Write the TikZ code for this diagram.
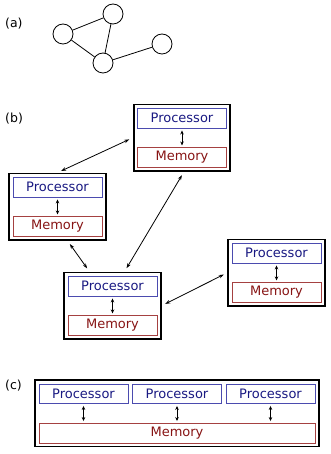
\documentclass[tikz,border=0pt]{standalone}
\usepackage{fontspec}
\setmainfont{DejaVu Sans}
\usepackage{xcolor}
\usepackage{tikz}
\usetikzlibrary{arrows.meta,positioning,fit,calc}
\definecolor{procblue}{RGB}{75,75,175}
\definecolor{proctext}{RGB}{25,25,130}
\definecolor{memred}{RGB}{165,65,65}
\definecolor{memtext}{RGB}{135,20,20}
\tikzset{
  unitbox/.style={
    draw,
    inner sep=0pt,
    minimum height=19.5pt,
    minimum width=89pt,
    font=\fontsize{13}{15}\selectfont
  },
  procbox/.style={unitbox, draw=procblue, text=proctext},
  membox/.style={unitbox, draw=memred, text=memtext},
  nodebox/.style={draw, line width=1.8pt, inner sep=3.5pt},
  vertex/.style={draw, circle, minimum size=20pt, inner sep=0pt, line width=0.8pt},
  partlabel/.style={anchor=west, inner sep=1pt, font=\fontsize{12.5}{14}\selectfont},
  link/.style={{Stealth[length=5pt,width=3.5pt]}-{Stealth[length=5pt,width=3.5pt]}, line width=0.8pt, shorten >=4pt, shorten <=4pt},
  buslink/.style={{Stealth[length=4pt,width=3.5pt]}-{Stealth[length=4pt,width=3.5pt]}, line width=0.8pt, shorten >=2pt, shorten <=2.5pt}
}

\begin{document}
\begin{tikzpicture}[x=1pt, y=-1pt, node distance=19.5pt]
\useasboundingbox (0,0) rectangle (330,454);

% (a) graph
\node[partlabel] (labela) at (4,24) {(a)};
\node[vertex] (va) at (63,34) {};
\node[vertex] (vb) at (113,14) {};
\node[vertex] (vc) at (103,63) {};
\node[vertex] (vd) at (162,44) {};
\draw[line width=0.8pt] (va) -- (vb);
\draw[line width=0.8pt] (va) -- (vc);
\draw[line width=0.8pt] (vb) -- (vc);
\draw[line width=0.8pt] (vc) -- (vd);

% (b) distributed
\node[partlabel] (labelb) at (4,119) {(b)};
\node[procbox] (tproc) at (182,118) {Processor};
\node[membox, below=of tproc] (tmem) {Memory};
\node[nodebox, fit=(tproc) (tmem)] (tbox) {};
\node[procbox] (lproc) at (57.5,187) {Processor};
\node[membox, below=of lproc] (lmem) {Memory};
\node[nodebox, fit=(lproc) (lmem)] (lbox) {};
\node[procbox] (mproc) at (112.5,286) {Processor};
\node[membox, below=of mproc] (mmem) {Memory};
\node[nodebox, fit=(mproc) (mmem)] (mbox) {};
\node[procbox] (rproc) at (276.5,253) {Processor};
\node[membox, below=of rproc] (rmem) {Memory};
\node[nodebox, fit=(rproc) (rmem)] (rbox) {};

\draw[buslink] (tproc) -- (tmem);
\draw[buslink] (lproc) -- (lmem);
\draw[buslink] (mproc) -- (mmem);
\draw[buslink] (rproc) -- (rmem);

\draw[link] (lbox.north) -- (tbox.west);
\draw[link] ([xshift=10pt]lbox.south) -- ([xshift=-23pt]mbox.north);
\draw[link] ([xshift=2pt]tbox.south) -- ([xshift=12pt]mbox.north);
\draw[link] (mbox.east) -- (rbox.west);

% (c) shared memory
\node[partlabel] (labelc) at (4,386) {(c)};
\node[procbox] (cproc1) at (83.5,393.5) {Processor};
\node[procbox] (cproc2) at (177,393.5) {Processor};
\node[procbox] (cproc3) at (270.5,393.5) {Processor};
\node[membox, minimum width=276pt] (cmem) at (177,433) {Memory};
\node[nodebox, fit=(cproc1) (cproc3) (cmem)] (cbox) {};
\draw[buslink] (cproc1.south) -- (cproc1.south |- cmem.north);
\draw[buslink] (cproc2.south) -- (cproc2.south |- cmem.north);
\draw[buslink] (cproc3.south) -- (cproc3.south |- cmem.north);
\end{tikzpicture}
\end{document}
